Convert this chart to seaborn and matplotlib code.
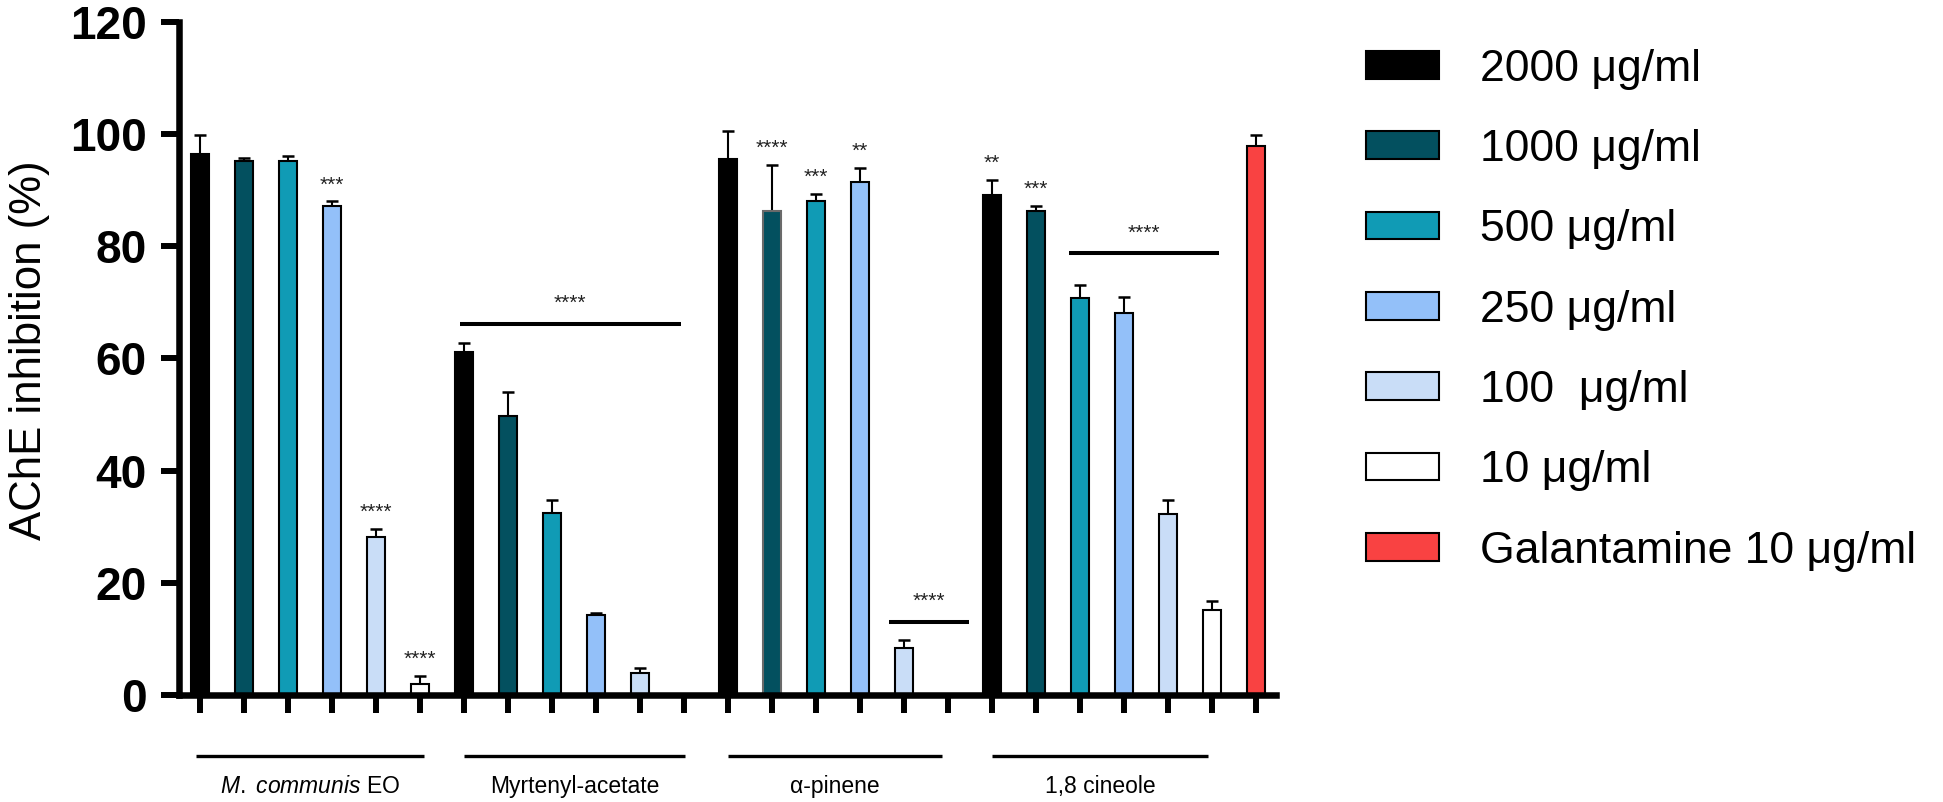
import numpy as np
import pandas as pd
import seaborn as sns
import matplotlib.pyplot as plt
from matplotlib.patches import Patch

# values (AChE inhibition, %), one entry per concentration
groups = ["M. communis EO", "Myrtenyl-acetate", "α-pinene", "1,8 cineole"]
group_labels = [r"$\mathit{M.\ communis}$ EO", "Myrtenyl-acetate", "α-pinene", "1,8 cineole"]
conc_labels = ["2000 μg/ml", "1000 μg/ml", "500 μg/ml", "250 μg/ml", "100  μg/ml", "10 μg/ml"]
gal_label = "Galantamine 10 μg/ml"

communis_mean = [96.4, 95.1, 95.2, 87.2, 28.1, 1.9]
communis_err = [3.4, 0.7, 0.9, 0.8, 1.5, 1.5]
myrtenyl_mean = [61.1, 49.7, 32.5, 14.3, 3.9, np.nan]
myrtenyl_err = [1.7, 4.3, 2.3, 0.4, 1.0, np.nan]
pinene_mean = [95.5, 86.3, 88.1, 91.5, 8.3, np.nan]
pinene_err = [5.1, 8.2, 1.2, 2.5, 1.5, np.nan]
cineole_mean = [89.1, 86.3, 70.7, 68.0, 32.3, 15.2]
cineole_err = [2.7, 0.9, 2.4, 2.9, 2.5, 1.5]
gal_mean = 97.9
gal_err = 1.9

communis_stars = ["", "", "", "***", "****", "****"]
myrtenyl_stars = ["", "", "", "", "", ""]
pinene_stars = ["", "****", "***", "**", "", ""]
cineole_stars = ["**", "***", "", "", "", ""]

# significance bars spanning several bars: (x from, x to, y, label)
sig_bars = [(5.9, 10.93, 66.2, "****"), (15.66, 17.48, 13.1, "****"), (19.74, 23.15, 78.8, "****")]
# group brackets under the axis
group_spans = [(-0.1, 5.09), (6.0, 11.02), (12.0, 16.86), (18.0, 22.9)]

colors = ["#000000", "#03505F", "#109BB5", "#93C0F9", "#C9DDF7", "#FFFFFF", "#F94242"]

means = [communis_mean, myrtenyl_mean, pinene_mean, cineole_mean]
errs = [communis_err, myrtenyl_err, pinene_err, cineole_err]
stars = [communis_stars, myrtenyl_stars, pinene_stars, cineole_stars]

rows = []
for g in range(len(groups)):
    for i, c in enumerate(conc_labels):
        rows.append({"slot": 6 * g + i, "value": means[g][i], "err": errs[g][i],
                     "conc": c, "stars": stars[g][i]})
rows.append({"slot": 24, "value": gal_mean, "err": gal_err, "conc": gal_label, "stars": ""})
df = pd.DataFrame(rows).dropna(subset=["value"])

sns.set_style("ticks")
plt.rcParams["font.family"] = ["Liberation Sans", "DejaVu Sans"]
plt.rcParams["mathtext.fontset"] = "custom"
plt.rcParams["mathtext.it"] = "Liberation Sans:italic"
plt.rcParams["mathtext.rm"] = "Liberation Sans"
for k in ["text.color", "axes.labelcolor", "xtick.color", "ytick.color", "axes.edgecolor"]:
    plt.rcParams[k] = "black"

hue_order = conc_labels + [gal_label]
fig = plt.figure(figsize=(19.43, 8.02), dpi=100)
ax = fig.add_axes([0.0919, 0.1334, 0.5648, 0.8395])

sns.barplot(data=df, x="slot", y="value", hue="conc", hue_order=hue_order,
            palette=colors, order=list(range(25)), dodge=False, width=0.42,
            edgecolor="black", linewidth=1.5, saturation=1, errorbar=None,
            legend=False, ax=ax)

# the 1000 ug/ml alpha-pinene bar has a grey outline in the original
for p in ax.patches:
    if abs(p.get_x() + p.get_width() / 2 - 13) < 0.01:
        p.set_edgecolor("#6a6a6a")

ax.errorbar(df["slot"], df["value"], yerr=[np.zeros(len(df)), df["err"]], fmt="none",
            ecolor="black", elinewidth=1.5, capsize=4, capthick=1.8, zorder=0.5)

for _, r in df.iterrows():
    if r["stars"]:
        ax.text(r["slot"], r["value"] + r["err"] + 1.9, r["stars"], ha="center",
                va="baseline", fontsize=15, color="#222222")

for x0, x1, y, lab in sig_bars:
    ax.plot([x0, x1], [y, y], color="black", lw=2.9, solid_capstyle="butt")
    ax.text((x0 + x1) / 2, y + 2.55, lab, ha="center", va="baseline", fontsize=15, color="#222222")

for (x0, x1), lab in zip(group_spans, group_labels):
    ax.plot([x0, x1], [-10.8, -10.8], color="black", lw=2.4, clip_on=False, solid_capstyle="butt")
    ax.text((x0 + x1) / 2, -16.35, lab, ha="center", va="center", fontsize=16.5)

ax.set_xlim(-0.486, 24.45)
ax.set_ylim(0, 120)
ax.set_yticks(range(0, 121, 20))
ax.set_xticks(range(25))
ax.set_xticklabels([])
ax.set_xlabel("")
ax.set_ylabel("AChE inhibition (%)", fontsize=31.5)
ax.yaxis.set_label_coords(-0.117, 0.512)
for lab in ax.get_yticklabels():
    lab.set_fontweight("bold")
ax.tick_params(axis="both", direction="out", length=13, width=4.3, color="black")
ax.tick_params(axis="y", labelsize=33, pad=10)
sns.despine(ax=ax)
for s in ["left", "bottom"]:
    ax.spines[s].set_linewidth(4.7)
    ax.spines[s].set_color("black")

handles = [Patch(facecolor=c, edgecolor="black", linewidth=1.5) for c in colors]
fig.legend(handles, hue_order, loc="upper left", bbox_to_anchor=(0.703, 0.9395),
           frameon=False, fontsize=32, borderpad=0, borderaxespad=0,
           handlelength=1.64, handleheight=0.59, handletextpad=0.92, labelspacing=0.885)

fig.savefig("out.png", dpi=100)
